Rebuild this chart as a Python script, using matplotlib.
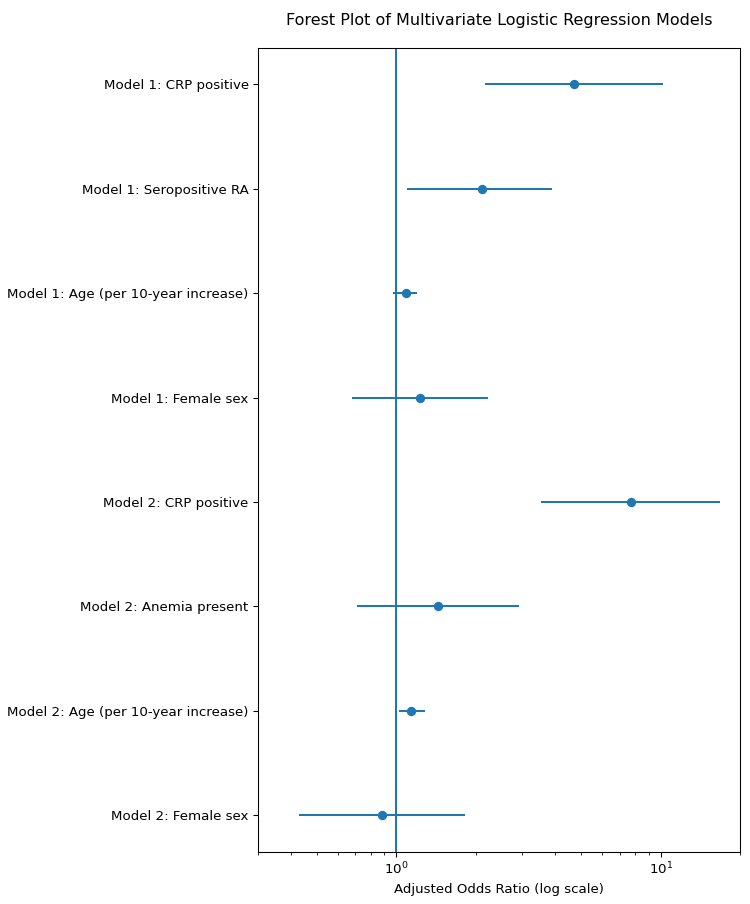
import matplotlib
matplotlib.use("Agg")
import matplotlib.pyplot as plt

LABELS = [
    'Model 1: CRP positive',
    'Model 1: Seropositive RA',
    'Model 1: Age (per 10-year increase)',
    'Model 1: Female sex',
    'Model 2: CRP positive',
    'Model 2: Anemia present',
    'Model 2: Age (per 10-year increase)',
    'Model 2: Female sex',
]
ODDS = [4.7, 2.11, 1.09, 1.23, 7.7, 1.44, 1.14, 0.885]
CI_LOW = [2.17, 1.10, 0.975, 0.68, 3.53, 0.71, 1.02, 0.43]
CI_HIGH = [10.2, 3.88, 1.20, 2.22, 16.8, 2.91, 1.29, 1.82]

DPI = 96


def plot_forest():
    fig, ax = plt.subplots(figsize=(750 / DPI, 904 / DPI), dpi=DPI)

    ypos = list(range(len(LABELS)))
    xerr = [[o - lo for o, lo in zip(ODDS, CI_LOW)],
            [hi - o for o, hi in zip(ODDS, CI_HIGH)]]
    ax.errorbar(ODDS, ypos, xerr=xerr, fmt='o')
    ax.axvline(1)

    ax.set_xscale('log')
    ax.set_xlim(0.3, 20)
    ax.set_yticks(ypos)
    ax.set_yticklabels(LABELS)
    ax.invert_yaxis()

    ax.set_xlabel('Adjusted Odds Ratio (log scale)')
    ax.set_title('Forest Plot of Multivariate Logistic Regression Models', pad=17)

    fig.subplots_adjust(left=0.344, right=0.987, top=0.947, bottom=0.058)
    fig.savefig('out.png', dpi=DPI)


if __name__ == "__main__":
    plot_forest()
